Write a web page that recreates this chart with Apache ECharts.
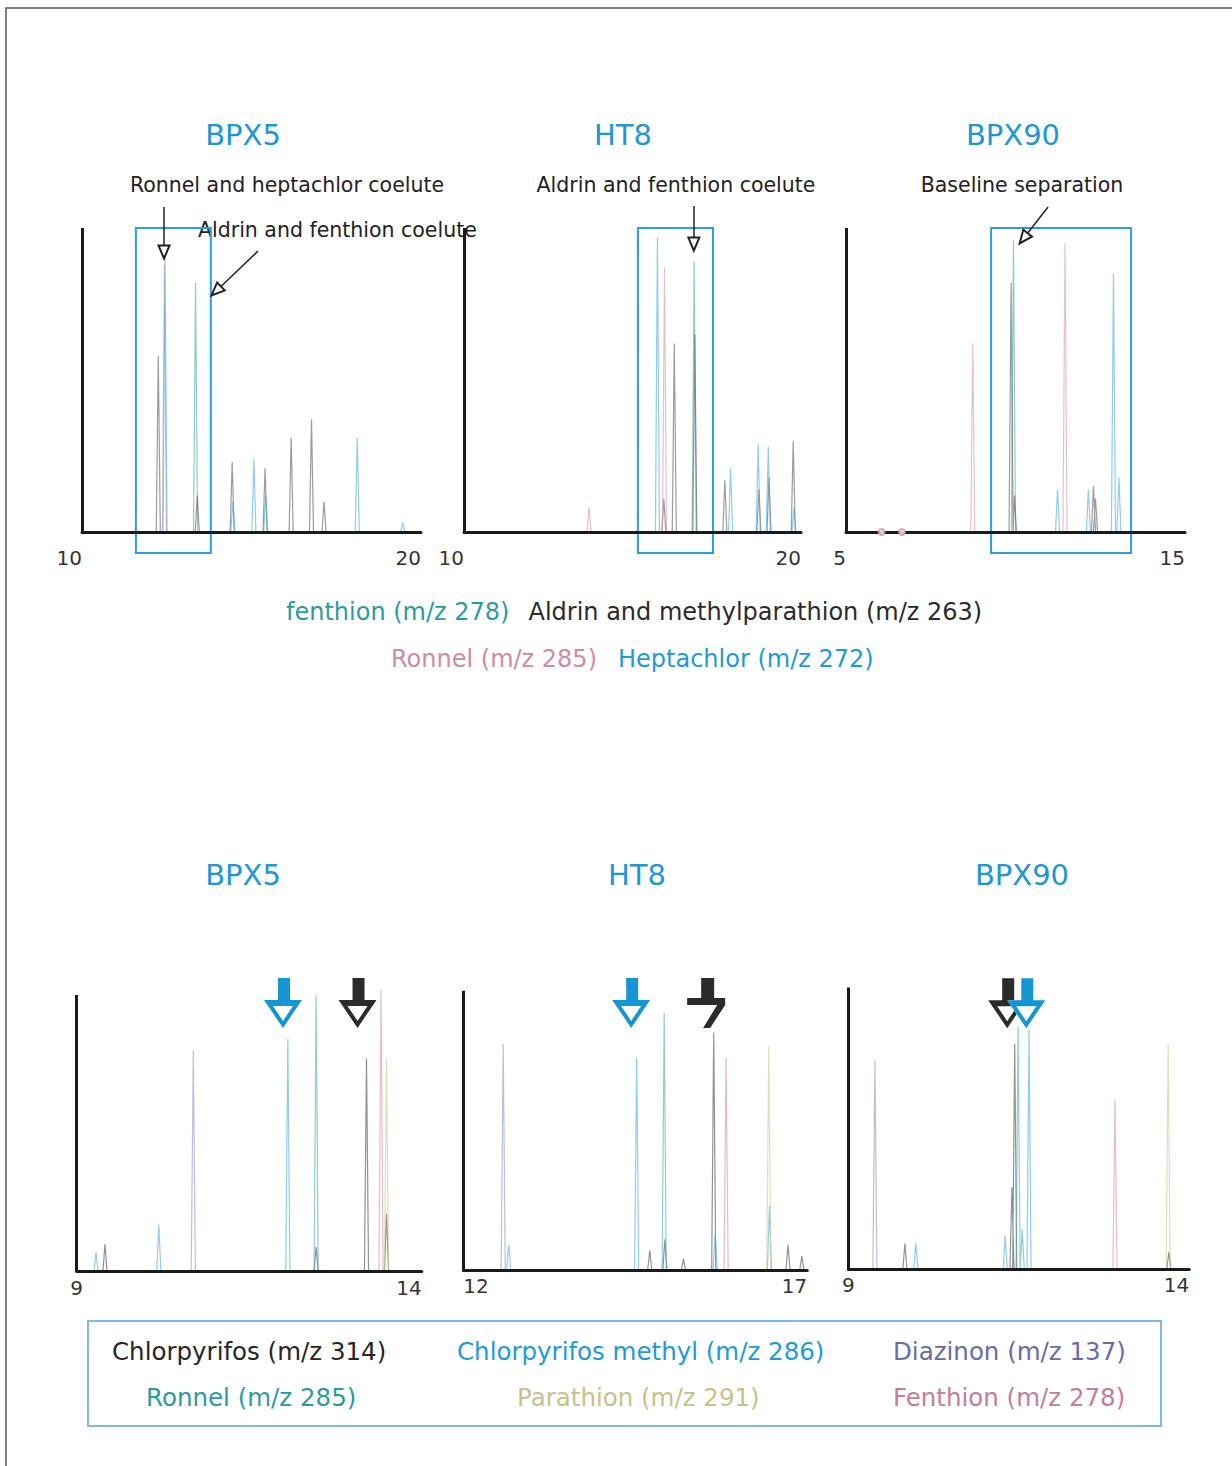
<!DOCTYPE html>
<html><head><meta charset="utf-8">
<script src="https://cdn.jsdelivr.net/npm/echarts@6/dist/echarts.min.js"></script>
<style>html,body{margin:0;padding:0;background:#fff}#c{width:1232px;height:1466px}</style>
</head><body><div id="c"></div>
<script>
// ================= DATA =================
const topTitles = ['BPX5', 'HT8', 'BPX90'];
const bottomTitles = ['BPX5', 'HT8', 'BPX90'];
const topRanges = [[10, 20], [10, 20], [5, 15]];
const bottomRanges = [[9, 14], [12, 17], [9, 14]];
const topTickLabels = [[10, 20], [10, 20], [5, 15]];
const bottomTickLabels = [[9, 14], [12, 17], [9, 14]];

const topNames = ['fenthion (m/z 278)', 'Aldrin and methylparathion (m/z 263)', 'Ronnel (m/z 285)', 'Heptachlor (m/z 272)'];
const bottomNames = ['Chlorpyrifos (m/z 314)', 'Chlorpyrifos methyl (m/z 286)', 'Diazinon (m/z 137)', 'Ronnel (m/z 285)', 'Parathion (m/z 291)', 'Fenthion (m/z 278)'];

// peaks: [retention time (min), relative height (axis top = 100)]
// --- top, BPX5 ---
const t1Fenthion = [[13.35, 82]];
const t1Aldrin = [[12.25, 58], [13.40, 12], [14.43, 23], [15.40, 21], [16.17, 31], [16.77, 37], [17.14, 10]];
const t1Ronnel = [[12.43, 88]];
const t1Heptachlor = [[12.45, 90], [14.45, 10], [15.07, 24], [15.42, 12], [18.12, 31], [19.46, 3]];
// --- top, HT8 ---
const t2Fenthion = [[16.83, 89]];
const t2Aldrin = [[15.93, 11], [16.24, 62], [16.85, 65], [17.74, 17], [18.75, 14], [19.05, 18], [19.77, 30]];
const t2Ronnel = [[13.71, 8], [15.95, 87]];
const t2Heptachlor = [[15.74, 97], [17.91, 21], [18.73, 29], [19.03, 28], [19.79, 8]];
// --- top, BPX90 ---
const t3Fenthion = [[9.94, 96]];
const t3Aldrin = [[9.87, 82], [9.97, 12], [12.30, 15], [12.36, 11]];
const t3Ronnel = [[8.74, 62], [11.46, 95]];
const t3RonnelTrace = [[6.05, 0], [6.65, 0]];
const t3Heptachlor = [[11.24, 14], [12.15, 14], [12.89, 85], [13.05, 18]];

// --- bottom, BPX5 ---
const b1Chlorpyrifos = [[9.41, 10], [12.47, 9], [13.20, 77], [13.49, 21]];
const b1ChlorMethyl = [[9.28, 7], [10.19, 17], [12.06, 84]];
const b1Diazinon = [[10.69, 80]];
const b1Ronnel = [[12.47, 100]];
const b1Parathion = [[13.49, 77]];
const b1Fenthion = [[13.41, 102]];
// --- bottom, HT8 ---
const b2Chlorpyrifos = [[14.71, 7], [14.93, 11], [15.20, 4], [15.64, 85], [16.72, 9], [16.92, 5]];
const b2ChlorMethyl = [[12.66, 9], [14.52, 76], [15.66, 13], [16.45, 23]];
const b2Diazinon = [[12.58, 81]];
const b2Ronnel = [[14.92, 92]];
const b2Parathion = [[16.44, 80]];
const b2Fenthion = [[15.82, 76]];
// --- bottom, BPX90 ---
const b3Chlorpyrifos = [[9.83, 9], [11.40, 29], [11.44, 80], [13.70, 6]];
const b3ChlorMethyl = [[9.99, 9], [11.30, 12], [11.65, 85]];
const b3Diazinon = [[9.39, 74]];
const b3Ronnel = [[11.49, 86], [11.55, 14]];
const b3Parathion = [[13.69, 80]];
const b3Fenthion = [[12.91, 60]];

// highlighted regions (retention time from / to) in the top row
const topBoxes = [[11.59, 13.80], [15.16, 17.39], [9.28, 13.41]];
// annotation arrows in the top row: [[t0, y0], [t1, y1]]
const topArrows = [
  [[[12.42, 106.9], [12.42, 92.1]], [[15.19, 92.4], [13.96, 79.3]]],
  [[[16.82, 107.2], [16.82, 94.7]]],
  [[[10.96, 106.9], [10.24, 96.6]]]
];
// block arrows in the bottom row: [t, y, kind]
const bottomArrows = [
  [[11.99, 97.1, 'blue'], [13.07, 97.1, 'dark']],
  [[14.44, 95.6, 'blue'], [15.53, 95.6, 'broken']],
  [[11.33, 94.4, 'dark'], [11.61, 94.4, 'blue']]
];

// ================= STYLE / LAYOUT =================
const FONT = 'DejaVu Sans';
const topColors = ['#45a9aa', '#5a5a5a', '#d597ab', '#4aaadd'];
const bottomColors = ['#4a4a4a', '#4aaadd', '#9092c4', '#48aeac', '#cdc890', '#d28ea8'];
const topLegendColors = ['#2b9b9c', '#2a2a2a', '#cf8ba3', '#1f9ad4'];
const bottomLegendColors = ['#262626', '#1f9ad4', '#6a6ca6', '#2a9ca0', '#c7c28a', '#c27e99'];

const topLayout = [{left: 82, width: 339}, {left: 464, width: 337}, {left: 846, width: 339}];
const bottomLayout = [
  {left: 76.7, width: 345, top: 975, height: 296.7},
  {left: 463.3, width: 344, top: 975, height: 295},
  {left: 848.3, width: 341, top: 975, height: 294}
];
const bottomYMax = [107.2, 105.6, 104.4];
const topAlign = [['right', 'right'], ['right', 'right'], ['right', 'right']];
const bottomAlign = [['center', 'right'], ['left', 'right'], ['center', 'right']];

const topPeaks = [
  [t1Fenthion, t1Aldrin, t1Ronnel, t1Heptachlor],
  [t2Fenthion, t2Aldrin, t2Ronnel, t2Heptachlor],
  [t3Fenthion, t3Aldrin, t3Ronnel, t3Heptachlor]
];
const bottomPeaks = [
  [b1Chlorpyrifos, b1ChlorMethyl, b1Diazinon, b1Ronnel, b1Parathion, b1Fenthion],
  [b2Chlorpyrifos, b2ChlorMethyl, b2Diazinon, b2Ronnel, b2Parathion, b2Fenthion],
  [b3Chlorpyrifos, b3ChlorMethyl, b3Diazinon, b3Ronnel, b3Parathion, b3Fenthion]
];

function peakLine(peaks, hw) {
  const out = [];
  peaks.slice().sort((a, b) => a[0] - b[0]).forEach(([t, h]) => {
    out.push([t - hw, 0], [t, h], [t + hw, 0]);
  });
  return out;
}

const ARROW = 'path://M14,0 L26,0 L26,22 L14,22 Z M0,22 L38,22 L19,50 Z M9,28 L19,43 L29,28 Z';
const BROKEN = 'path://M14,0 L27,0 L27,20 L38,20 L38,27 L23,50 L16,50 L30,27 L0,27 L0,20 L14,20 Z';
const HEAD = 'path://M0,22 L38,22 L19,50 Z';

const grids = [], xAxes = [], yAxes = [], series = [], titles = [];

// ---------- top row ----------
for (let i = 0; i < 3; i++) {
  grids.push({left: topLayout[i].left, width: topLayout[i].width, top: 197.6, height: 358.7, outerBoundsMode: 'none', containLabel: false});
  xAxes.push({
    gridIndex: i, type: 'value', min: topRanges[i][0], max: topRanges[i][1], z: 5,
    axisLine: {onZero: true, lineStyle: {color: '#1a1a1a', width: 3}},
    axisTick: {show: false}, splitLine: {show: false},
    axisLabel: {customValues: topTickLabels[i], color: '#333', fontSize: 20, fontFamily: FONT, margin: -8,
      alignMinLabel: topAlign[i][0], alignMaxLabel: topAlign[i][1], showMinLabel: true, showMaxLabel: true}
  });
  yAxes.push({gridIndex: i, type: 'value', min: -8, max: 110, show: false});
  topPeaks[i].forEach((pk, k) => {
    series.push({
      name: topNames[k], type: 'line', xAxisIndex: i, yAxisIndex: i, data: peakLine(pk, 0.06),
      showSymbol: false, silent: true, lineStyle: {color: topColors[k], width: 1.2, opacity: 0.6},
      itemStyle: {color: topColors[k]}
    });
  });
  if (i === 2) {
    series.push({
      name: topNames[2], type: 'scatter', xAxisIndex: i, yAxisIndex: i, data: t3RonnelTrace, z: 10,
      symbol: 'emptyCircle', symbolSize: 6, itemStyle: {color: '#d38fa6'}, silent: true
    });
  }
  series.push({
    name: 'frame-top-' + i, type: 'line', xAxisIndex: i, yAxisIndex: i, data: [], silent: true,
    markLine: {silent: true, animation: false, symbol: ['none', 'none'], label: {show: false},
      lineStyle: {color: '#1a1a1a', width: 3, type: 'solid'},
      data: [[{coord: [topRanges[i][0], 0]}, {coord: [topRanges[i][0], 100]}]]},
    markArea: {silent: true, itemStyle: {color: 'rgba(0,0,0,0)', borderColor: '#2a9fd8', borderWidth: 2},
      data: [[{coord: [topBoxes[i][0], -6.9]}, {coord: [topBoxes[i][1], 100]}]]}
  });
  series.push({
    name: 'notes-top-' + i, type: 'line', xAxisIndex: i, yAxisIndex: i, data: [], silent: true,
    markLine: {silent: true, animation: false, symbol: ['none', 'emptyTriangle'], symbolSize: [11, 13],
      label: {show: false}, lineStyle: {color: '#222', width: 1.5, type: 'solid'},
      data: topArrows[i].map(a => [{coord: a[0]}, {coord: a[1]}])}
  });
  titles.push({text: topTitles[i], left: [243, 623, 1013][i], top: 135, textAlign: 'center', textVerticalAlign: 'middle', padding: 0,
    textStyle: {color: '#2196d3', fontSize: 29, fontWeight: 'normal', fontFamily: FONT}});
}

// ---------- bottom row ----------
for (let i = 0; i < 3; i++) {
  const g = i + 3;
  grids.push({left: bottomLayout[i].left, width: bottomLayout[i].width, top: bottomLayout[i].top, height: bottomLayout[i].height, outerBoundsMode: 'none', containLabel: false});
  xAxes.push({
    gridIndex: g, type: 'value', min: bottomRanges[i][0], max: bottomRanges[i][1], z: 5,
    axisLine: {onZero: true, lineStyle: {color: '#1a1a1a', width: 3}},
    axisTick: {show: false}, splitLine: {show: false},
    axisLabel: {customValues: bottomTickLabels[i], color: '#333', fontSize: 20, fontFamily: FONT, margin: 6,
      alignMinLabel: bottomAlign[i][0], alignMaxLabel: bottomAlign[i][1], showMinLabel: true, showMaxLabel: true}
  });
  yAxes.push({gridIndex: g, type: 'value', min: 0, max: bottomYMax[i], show: false});
  bottomPeaks[i].forEach((pk, k) => {
    series.push({
      name: bottomNames[k], type: 'line', xAxisIndex: g, yAxisIndex: g, data: peakLine(pk, 0.03),
      showSymbol: false, silent: true, lineStyle: {color: bottomColors[k], width: 1.2, opacity: 0.6},
      itemStyle: {color: bottomColors[k]}
    });
  });
  const mp = [];
  bottomArrows[i].forEach(([t, y, kind]) => {
    if (kind === 'blue') {
      mp.push({coord: [t, y], symbol: HEAD, symbolSize: [38, 28], symbolOffset: [0, 11], itemStyle: {color: '#ffffff'}});
      mp.push({coord: [t, y], symbol: ARROW, symbolSize: [38, 50], itemStyle: {color: '#1596d2'}});
    } else if (kind === 'dark') {
      mp.push({coord: [t, y], symbol: ARROW, symbolSize: [38, 50], itemStyle: {color: '#2b2b2b'}});
    } else {
      mp.push({coord: [t, y], symbol: BROKEN, symbolSize: [38, 50], itemStyle: {color: '#2b2b2b'}});
    }
  });
  series.push({
    name: 'frame-bottom-' + i, type: 'line', xAxisIndex: g, yAxisIndex: g, data: [], silent: true,
    markLine: {silent: true, animation: false, symbol: ['none', 'none'], label: {show: false},
      lineStyle: {color: '#1a1a1a', width: 3, type: 'solid'},
      data: [[{coord: [bottomRanges[i][0], 0]}, {coord: [bottomRanges[i][0], 100]}]]},
    markPoint: {silent: true, animation: false, label: {show: false}, symbolKeepAspect: false, data: mp}
  });
  titles.push({text: bottomTitles[i], left: [243, 637, 1022][i], top: 875, textAlign: 'center', textVerticalAlign: 'middle', padding: 0,
    textStyle: {color: '#2196d3', fontSize: 29, fontWeight: 'normal', fontFamily: FONT}});
}

// ---------- legends ----------
const legendBase = {orient: 'horizontal', padding: 0, itemWidth: 0, itemHeight: 24, icon: 'none', selectedMode: false,
  textStyle: {fontSize: 24, fontFamily: FONT}};
const legends = [
  Object.assign({}, legendBase, {left: 281, top: 600, itemGap: 14,
    data: [{name: topNames[0], textStyle: {color: topLegendColors[0]}}, {name: topNames[1], textStyle: {color: topLegendColors[1]}}]}),
  Object.assign({}, legendBase, {left: 386, top: 647, itemGap: 16,
    data: [{name: topNames[2], textStyle: {color: topLegendColors[2]}}, {name: topNames[3], textStyle: {color: topLegendColors[3]}}]})
];
const bottomLegendPos = [[107, 1339], [452, 1339], [888, 1339], [141, 1385], [512, 1385], [888, 1385]];
bottomNames.forEach((n, k) => {
  legends.push(Object.assign({}, legendBase, {left: bottomLegendPos[k][0], top: bottomLegendPos[k][1],
    textStyle: {fontSize: 24.5, fontFamily: FONT},
    data: [{name: n, textStyle: {color: bottomLegendColors[k]}}]}));
});

const noteFont = {fontSize: 20.5, fontFamily: FONT, fill: '#222'};
const option = {
  animation: false,
  backgroundColor: '#ffffff',
  textStyle: {fontFamily: FONT},
  title: titles,
  legend: legends,
  grid: grids,
  xAxis: xAxes,
  yAxis: yAxes,
  series: series,
  graphic: [
    {type: 'rect', shape: {x: 6, y: 8, width: 1400, height: 1600}, style: {fill: 'none', stroke: '#555', lineWidth: 1.5}, silent: true},
    {type: 'rect', shape: {x: 88, y: 1321, width: 1073, height: 105}, style: {fill: 'none', stroke: '#7dbbe0', lineWidth: 2}, silent: true},
    {type: 'text', x: 287, y: 185, style: Object.assign({text: 'Ronnel and heptachlor coelute', align: 'center', verticalAlign: 'middle'}, noteFont)},
    {type: 'text', x: 198, y: 230, style: Object.assign({text: 'Aldrin and fenthion coelute', align: 'left', verticalAlign: 'middle'}, noteFont)},
    {type: 'text', x: 676, y: 185, style: Object.assign({text: 'Aldrin and fenthion coelute', align: 'center', verticalAlign: 'middle'}, noteFont)},
    {type: 'text', x: 1022, y: 185, style: Object.assign({text: 'Baseline separation', align: 'center', verticalAlign: 'middle'}, noteFont)}
  ]
};

const chart = echarts.init(document.getElementById('c'), null, {renderer: 'svg'});
chart.setOption(option);
</script>
</body></html>
